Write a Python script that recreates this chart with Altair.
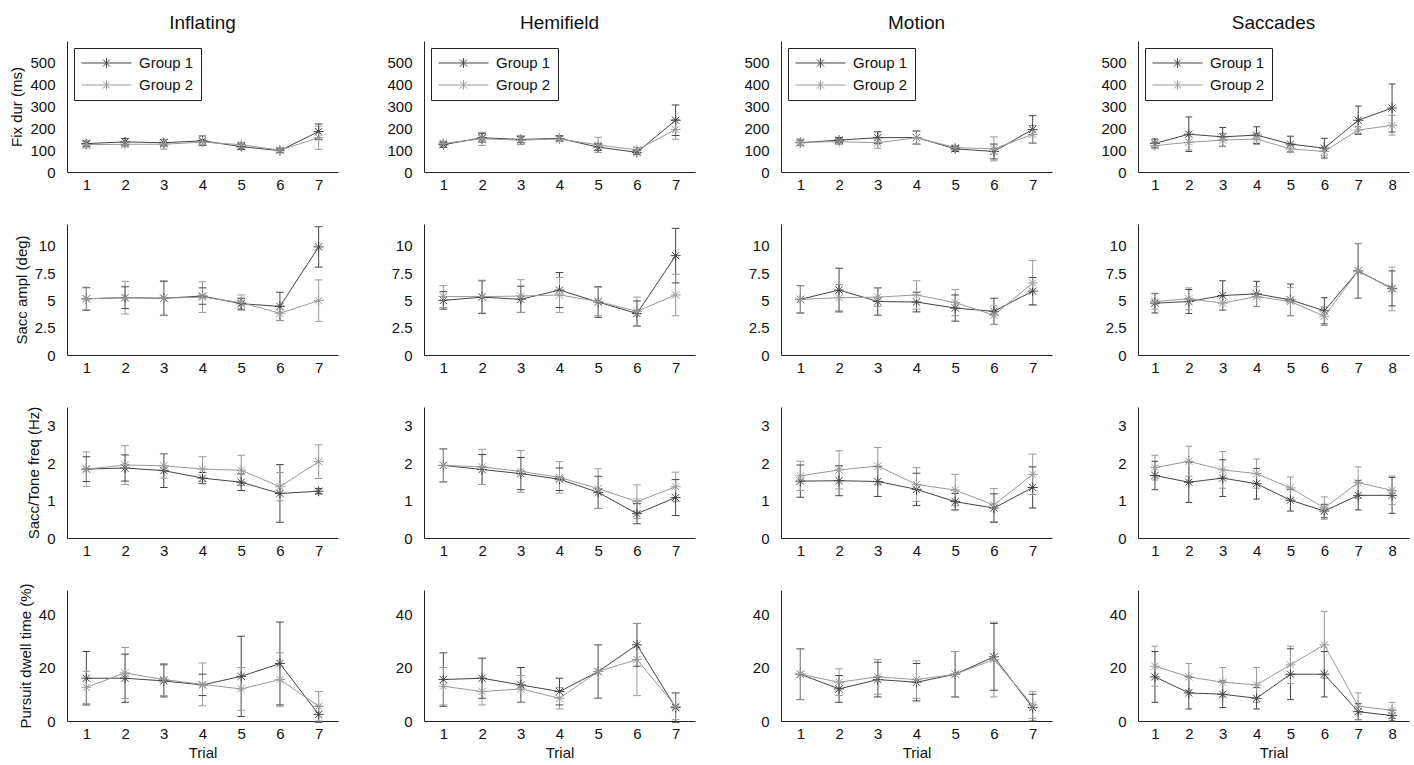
import altair as alt
import pandas as pd

FONT = "Liberation Sans"

conditions = ["Inflating", "Hemifield", "Motion", "Saccades"]
measures = ["Fix dur (ms)", "Sacc ampl (deg)", "Sacc/Tone freq (Hz)", "Pursuit dwell time (%)"]
groups = ["Group 1", "Group 2"]
group_colors = ["#444444", "#9a9a9a"]
y_domains = [[0, 600], [0, 12], [0, 3.5], [0, 49]]
y_ticks = [[0, 100, 200, 300, 400, 500], [0, 2.5, 5, 7.5, 10], [0, 1, 2, 3], [0, 20, 40]]

# ---------------- Fix dur (ms) ----------------
fix_inf_g1 = [130, 138, 134, 143, 116, 98, 185]
fix_inf_g1_err = [12, 15, 15, 22, 12, 8, 35]
fix_inf_g2 = [125, 127, 127, 137, 125, 100, 157]
fix_inf_g2_err = [15, 12, 22, 12, 10, 10, 53]

fix_hem_g1 = [125, 157, 149, 154, 114, 90, 237]
fix_hem_g1_err = [12, 20, 15, 12, 15, 8, 70]
fix_hem_g2 = [131, 152, 146, 151, 124, 101, 195]
fix_hem_g2_err = [10, 30, 20, 12, 35, 12, 45]

fix_mot_g1 = [134, 146, 157, 158, 106, 94, 195]
fix_mot_g1_err = [12, 12, 27, 30, 12, 34, 63]
fix_mot_g2 = [136, 139, 134, 157, 112, 106, 172]
fix_mot_g2_err = [15, 12, 25, 30, 10, 55, 41]

fix_sac_g1 = [131, 173, 161, 169, 128, 109, 237, 293]
fix_sac_g1_err = [20, 79, 43, 38, 36, 45, 65, 110]
fix_sac_g2 = [121, 136, 146, 151, 106, 94, 192, 214]
fix_sac_g2_err = [15, 35, 30, 25, 15, 20, 16, 45]

# ---------------- Sacc ampl (deg) ----------------
amp_inf_g1 = [5.15, 5.25, 5.2, 5.4, 4.7, 4.45, 9.9]
amp_inf_g1_err = [1.05, 1.0, 1.55, 0.75, 0.5, 1.3, 1.85]
amp_inf_g2 = [5.15, 5.25, 5.2, 5.3, 4.8, 3.82, 4.98]
amp_inf_g2_err = [1.0, 1.5, 1.6, 1.4, 0.7, 0.65, 1.9]

amp_hem_g1 = [5.0, 5.3, 5.1, 5.95, 4.85, 3.8, 9.1]
amp_hem_g1_err = [0.8, 1.5, 1.2, 1.6, 1.4, 1.15, 2.5]
amp_hem_g2 = [5.35, 5.35, 5.4, 5.5, 4.9, 4.0, 5.5]
amp_hem_g2_err = [1.0, 1.5, 1.5, 1.6, 1.3, 1.3, 1.9]

amp_mot_g1 = [5.1, 5.95, 4.9, 4.85, 4.3, 4.0, 5.85]
amp_mot_g1_err = [1.25, 2.0, 1.25, 0.9, 1.2, 1.2, 1.25]
amp_mot_g2 = [5.1, 5.25, 5.3, 5.5, 4.8, 3.65, 6.6]
amp_mot_g2_err = [1.25, 1.2, 0.85, 1.3, 1.2, 0.85, 2.05]

amp_sac_g1 = [4.75, 4.9, 5.45, 5.6, 5.05, 4.05, 7.7, 6.1]
amp_sac_g1_err = [0.9, 1.1, 1.35, 1.15, 1.45, 1.2, 2.5, 1.6]
amp_sac_g2 = [4.9, 5.15, 4.75, 5.35, 4.9, 3.55, 7.7, 6.05]
amp_sac_g2_err = [0.7, 1.0, 0.65, 0.9, 1.3, 0.85, 2.5, 2.0]

# ---------------- Sacc/Tone freq (Hz) ----------------
frq_inf_g1 = [1.84, 1.87, 1.8, 1.6, 1.49, 1.19, 1.25]
frq_inf_g1_err = [0.33, 0.35, 0.45, 0.15, 0.22, 0.77, 0.07]
frq_inf_g2 = [1.84, 1.95, 1.93, 1.84, 1.81, 1.37, 2.04]
frq_inf_g2_err = [0.46, 0.52, 0.33, 0.33, 0.4, 0.38, 0.45]

frq_hem_g1 = [1.94, 1.83, 1.72, 1.57, 1.22, 0.65, 1.08]
frq_hem_g1_err = [0.44, 0.4, 0.43, 0.3, 0.43, 0.27, 0.48]
frq_hem_g2 = [1.94, 1.9, 1.78, 1.62, 1.32, 0.97, 1.37]
frq_hem_g2_err = [0.44, 0.47, 0.56, 0.42, 0.53, 0.45, 0.39]

frq_mot_g1 = [1.52, 1.53, 1.51, 1.3, 0.97, 0.8, 1.35]
frq_mot_g1_err = [0.43, 0.4, 0.4, 0.43, 0.22, 0.38, 0.55]
frq_mot_g2 = [1.66, 1.82, 1.92, 1.43, 1.28, 0.88, 1.7]
frq_mot_g2_err = [0.39, 0.51, 0.5, 0.45, 0.42, 0.44, 0.54]

frq_sac_g1 = [1.67, 1.49, 1.6, 1.45, 1.01, 0.72, 1.14, 1.14]
frq_sac_g1_err = [0.38, 0.54, 0.49, 0.41, 0.29, 0.18, 0.39, 0.48]
frq_sac_g2 = [1.88, 2.05, 1.82, 1.72, 1.34, 0.8, 1.48, 1.27]
frq_sac_g2_err = [0.33, 0.4, 0.49, 0.39, 0.29, 0.3, 0.42, 0.38]

# ---------------- Pursuit dwell time (%) ----------------
pur_inf_g1 = [16, 16, 15, 13.5, 16.7, 21.5, 2.5]
pur_inf_g1_err = [10, 9, 6, 4, 15, 15.5, 3]
pur_inf_g2 = [12.6, 18, 15.5, 13.7, 12, 15.5, 5.5]
pur_inf_g2_err = [6, 9.5, 6, 8, 8, 10, 5.5]

pur_hem_g1 = [15.5, 16, 13.5, 11, 18.5, 28.5, 5]
pur_hem_g1_err = [10, 7.5, 6.5, 5, 10, 8, 5.5]
pur_hem_g2 = [13, 11, 12, 8.5, 18.5, 23, 5.5]
pur_hem_g2_err = [7, 5, 5, 4, 10, 13.5, 5]

pur_mot_g1 = [17.5, 12, 15.5, 14.5, 17.5, 24, 5]
pur_mot_g1_err = [9.5, 5, 6.5, 7, 8.5, 12.5, 5]
pur_mot_g2 = [17.5, 14.5, 16.5, 15.5, 17.5, 23, 6]
pur_mot_g2_err = [9.5, 5, 6.5, 7, 8.5, 14, 5]

pur_sac_g1 = [16.5, 10.5, 10, 8.5, 17.5, 17.5, 3.5, 2]
pur_sac_g1_err = [9.5, 6, 5, 4, 9.5, 8.5, 3, 2]
pur_sac_g2 = [20.5, 16.5, 14.5, 13.5, 21, 28.5, 5.5, 4]
pur_sac_g2_err = [7.5, 5, 5.5, 6.5, 7, 12.5, 5, 3]

panel_series = [
    [(fix_inf_g1, fix_inf_g1_err, fix_inf_g2, fix_inf_g2_err),
     (fix_hem_g1, fix_hem_g1_err, fix_hem_g2, fix_hem_g2_err),
     (fix_mot_g1, fix_mot_g1_err, fix_mot_g2, fix_mot_g2_err),
     (fix_sac_g1, fix_sac_g1_err, fix_sac_g2, fix_sac_g2_err)],
    [(amp_inf_g1, amp_inf_g1_err, amp_inf_g2, amp_inf_g2_err),
     (amp_hem_g1, amp_hem_g1_err, amp_hem_g2, amp_hem_g2_err),
     (amp_mot_g1, amp_mot_g1_err, amp_mot_g2, amp_mot_g2_err),
     (amp_sac_g1, amp_sac_g1_err, amp_sac_g2, amp_sac_g2_err)],
    [(frq_inf_g1, frq_inf_g1_err, frq_inf_g2, frq_inf_g2_err),
     (frq_hem_g1, frq_hem_g1_err, frq_hem_g2, frq_hem_g2_err),
     (frq_mot_g1, frq_mot_g1_err, frq_mot_g2, frq_mot_g2_err),
     (frq_sac_g1, frq_sac_g1_err, frq_sac_g2, frq_sac_g2_err)],
    [(pur_inf_g1, pur_inf_g1_err, pur_inf_g2, pur_inf_g2_err),
     (pur_hem_g1, pur_hem_g1_err, pur_hem_g2, pur_hem_g2_err),
     (pur_mot_g1, pur_mot_g1_err, pur_mot_g2, pur_mot_g2_err),
     (pur_sac_g1, pur_sac_g1_err, pur_sac_g2, pur_sac_g2_err)],
]

ASTERISK = "M-1,0L1,0M0,-1L0,1M-0.72,-0.72L0.72,0.72M-0.72,0.72L0.72,-0.72"
LEGEND_SYMBOL = ("M-1,0L1,0M0,-0.19L0,0.19M-0.14,-0.14L0.14,0.14"
                 "M-0.14,0.14L0.14,-0.14")

PANEL_W = 271
PANEL_H = 131


def make_panel(r, c):
    g1, g1e, g2, g2e = panel_series[r][c]
    n = len(g1)
    trials = list(range(1, n + 1))
    cap = 0.1
    recs = []
    for gname, vals, errs in ((groups[0], g1, g1e), (groups[1], g2, g2e)):
        for t, v, e in zip(trials, vals, errs):
            recs.append({"trial": t, "group": gname, "value": v,
                         "lo": v - e, "hi": v + e,
                         "cl": t - cap, "cr": t + cap})
    df = pd.DataFrame(recs)

    xs = alt.Scale(domain=[0.5, n + 0.5], nice=False, zero=False)
    ys = alt.Scale(domain=y_domains[r], nice=False, zero=False)
    x_axis = alt.Axis(values=trials, labelExpr="'' + datum.value",
                      title="Trial" if r == 3 else None)
    y_axis = alt.Axis(values=y_ticks[r], labelExpr="'' + datum.value",
                      title=measures[r] if c == 0 else None)
    cscale = alt.Scale(domain=groups, range=group_colors)

    if r == 0:
        legend = alt.Legend(
            title=None, orient="top-left", offset=7, padding=7,
            strokeColor="#222222", fillColor="white",
            symbolType=LEGEND_SYMBOL, symbolSize=2500, symbolStrokeWidth=1,
            labelFont=FONT, labelFontSize=15, labelColor="#111111",
            labelOffset=7, clipHeight=16, rowPadding=6,
        )
    else:
        legend = None

    base = alt.Chart(df)
    line = base.mark_line(strokeWidth=1).encode(
        x=alt.X("trial:Q", scale=xs, axis=x_axis),
        y=alt.Y("value:Q", scale=ys, axis=y_axis),
        stroke=alt.Stroke("group:N", scale=cscale, legend=legend),
        detail="group:N",
    )
    pts = base.mark_point(shape=ASTERISK, size=100, filled=False,
                          strokeWidth=1, opacity=1).encode(
        x=alt.X("trial:Q", scale=xs, axis=x_axis),
        y=alt.Y("value:Q", scale=ys, axis=y_axis),
        stroke=alt.Stroke("group:N", scale=cscale, legend=None),
    )
    bars = base.mark_rule(strokeWidth=1).encode(
        x=alt.X("trial:Q", scale=xs, axis=x_axis),
        y=alt.Y("lo:Q", scale=ys, axis=y_axis),
        y2="hi:Q",
        stroke=alt.Stroke("group:N", scale=cscale, legend=None),
    )
    cap_lo = base.mark_rule(strokeWidth=1).encode(
        x=alt.X("cl:Q", scale=xs, axis=x_axis),
        x2="cr:Q",
        y=alt.Y("lo:Q", scale=ys, axis=y_axis),
        stroke=alt.Stroke("group:N", scale=cscale, legend=None),
    )
    cap_hi = base.mark_rule(strokeWidth=1).encode(
        x=alt.X("cl:Q", scale=xs, axis=x_axis),
        x2="cr:Q",
        y=alt.Y("hi:Q", scale=ys, axis=y_axis),
        stroke=alt.Stroke("group:N", scale=cscale, legend=None),
    )
    layer = alt.layer(line, bars, cap_lo, cap_hi, pts)
    if r == 0:
        layer = layer.properties(
            width=PANEL_W, height=PANEL_H,
            title=alt.TitleParams(conditions[c], font=FONT, fontSize=19,
                                  fontWeight="normal", color="#111111",
                                  anchor="middle", offset=8),
        )
    else:
        layer = layer.properties(width=PANEL_W, height=PANEL_H)
    return layer


panels = [make_panel(r, c) for r in range(4) for c in range(4)]

chart = alt.concat(*panels, columns=4, spacing={"row": 52, "column": 86},
                   bounds="flush")
chart = chart.resolve_scale(stroke="independent").resolve_legend(stroke="independent")
chart = chart.properties(
    padding={"left": 9, "top": 13, "right": 0, "bottom": 0},
    background="white",
).configure_view(stroke="transparent").configure_axis(
    domainColor="#222222", domainWidth=1, ticks=False, grid=False,
    labelFont=FONT, labelFontSize=15, labelColor="#111111",
    titleFont=FONT, titleFontSize=15, titleFontWeight="normal",
    titleColor="#111111",
).configure_axisX(labelPadding=5, titlePadding=4, labelAngle=0).configure_axisY(
    labelPadding=12, titlePadding=5
)

chart.save("out.html", embed_options={"renderer": "svg", "actions": False})
